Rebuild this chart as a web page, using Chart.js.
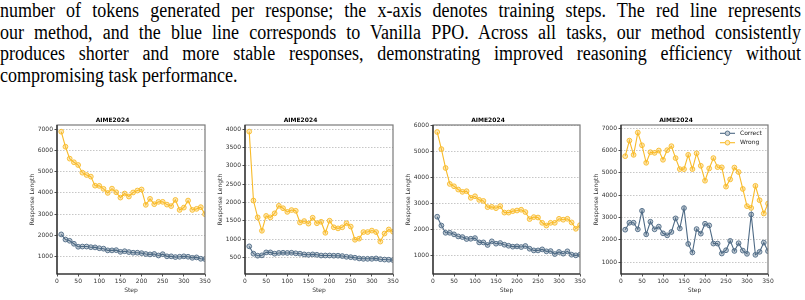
<!DOCTYPE html>
<html>
<head>
<meta charset="utf-8">
<script src="https://cdn.jsdelivr.net/npm/chart.js@4.4.1/dist/chart.umd.min.js"></script>
<style>
  html, body { margin: 0; padding: 0; background: #fff; }
  body { width: 805px; height: 300px; position: relative; overflow: hidden; }
  .para { position: absolute; left: 0; top: 0; width: 890px;
          transform: scaleX(0.9); transform-origin: 0 0;
          font-family: "Liberation Serif", "Times New Roman", serif;
          font-size: 20px; line-height: 21.7px; color: #000; }
  .para div { text-align: justify; text-align-last: justify; }
  .para div.last { text-align-last: left; }
  canvas { position: absolute; top: 112px; }
</style>
</head>
<body>
<div class="para">
  <div>number of tokens generated per response; the x-axis denotes training steps. The red line represents</div>
  <div>our method, and the blue line corresponds to Vanilla PPO. Across all tasks, our method consistently</div>
  <div>produces shorter and more stable responses, demonstrating improved reasoning efficiency without</div>
  <div class="last">compromising task performance.</div>
</div>
<canvas id="c1" width="193" height="188" style="left:20px"></canvas>
<canvas id="c2" width="193" height="188" style="left:208px"></canvas>
<canvas id="c3" width="192" height="188" style="left:396px"></canvas>
<canvas id="c4" width="192" height="188" style="left:584px"></canvas>
<script>
// training steps (x) and tick labels
const steps = [10,20,30,40,50,60,70,80,90,100,110,120,130,140,150,160,170,180,190,200,
               210,220,230,240,250,260,270,280,290,300,310,320,330,340,350];
const xTicks = [0,50,100,150,200,250,300,350];

// panel 1
const correct1 = [2050,1810,1750,1610,1470,1480,1480,1450,1440,1400,1380,1300,1300,1310,1230,1260,1220,1190,1190,1170,
                  1130,1110,1130,1060,1120,1020,1020,985,1000,1020,1000,950,970,905,890];
const wrong1 = [6875,6170,5610,5440,5310,4950,4840,4765,4340,4330,4190,4000,4200,4030,3780,3970,3830,4020,4110,4160,
                3440,3720,3470,3580,3580,3450,3380,3670,3200,3310,3640,3200,3250,3330,3000];
const yTicks1 = [1000,2000,3000,4000,5000,6000,7000];

// panel 2
const correct2 = [800,600,545,555,635,635,600,620,625,620,625,610,600,580,570,580,570,550,550,550,
                  545,545,535,515,505,490,470,460,460,460,470,450,440,435,425];
const wrong2 = [3930,2050,1590,1225,1630,1590,1700,1905,1840,1740,1790,1770,1450,1490,1420,1580,1430,1470,1170,1500,
                1320,1290,1320,1430,1340,980,1010,1190,1190,1230,1190,930,1150,1260,1200];
const yTicks2 = [500,1000,1500,2000,2500,3000,3500,4000];

// panel 3
const correct3 = [2490,2150,1870,1870,1810,1730,1705,1630,1640,1665,1500,1500,1400,1540,1450,1475,1410,1370,1335,1345,
                  1320,1360,1255,1190,1190,1230,1155,1165,1050,1130,1065,1155,1025,1000,1025];
const wrong3 = [5760,5100,4370,3755,3665,3540,3450,3475,3220,3280,3140,3100,2860,2870,2820,2900,2650,2650,2705,2730,
                2760,2670,2400,2475,2460,2255,2150,2255,2255,2410,2375,2410,2270,2025,2165];
const yTicks3 = [1000,2000,3000,4000,5000,6000];

// panel 4
const correct4 = [2453,2765,2765,2470,3300,2245,2810,2470,2590,2290,2200,2350,2960,2510,3420,1815,1430,2480,2275,2720,
                  2645,1830,1830,1385,1530,1950,1500,1845,1515,1370,3135,1325,1460,1875,1490];
const wrong4 = [5750,6450,5810,6810,6240,5455,5930,5900,6005,5590,6020,6200,5665,5170,5170,5810,5170,5880,5320,4650,
                5200,5665,5260,5250,4385,4710,5240,5040,4280,3510,3430,4420,3775,3180,3625];
const yTicks4 = [1000,2000,3000,4000,5000,6000,7000];

const BLUE = '#4e6a85';
const BLUE_FILL = 'rgba(78,106,133,0.35)';
const GOLD = '#f8bb2a';
const GOLD_FILL = 'rgba(248,187,42,0.35)';
const FONT = 'DejaVu Sans';

// box around plot area, like matplotlib spines
const framePlugin = {
  id: 'frame',
  afterDatasetsDraw(chart) {
    const ctx = chart.ctx, a = chart.chartArea;
    ctx.save();
    ctx.lineWidth = 1.2;
    ctx.strokeStyle = '#7a7a7a';
    ctx.strokeRect(a.left, a.top, a.width, a.height);
    ctx.strokeStyle = '#222';
    ctx.beginPath();
    ctx.moveTo(a.left, a.top);
    ctx.lineTo(a.left, a.bottom);
    ctx.lineTo(a.right, a.bottom);
    ctx.stroke();
    ctx.restore();
  }
};

// legend drawn inside the top-right corner (line + marker + label)
const cornerLegend = {
  id: 'cornerLegend',
  afterDatasetsDraw(chart, args, opts) {
    if (!opts.display) return;
    const ctx = chart.ctx, a = chart.chartArea;
    ctx.save();
    ctx.font = '6px "' + FONT + '"';
    ctx.textBaseline = 'middle';
    chart.data.datasets.forEach(function(ds, i) {
      const y = a.top + 8.3 + i * 9.4;
      const x0 = a.right - 48;
      ctx.strokeStyle = ds.borderColor;
      ctx.lineWidth = 1.1;
      ctx.beginPath(); ctx.moveTo(x0, y); ctx.lineTo(x0 + 15, y); ctx.stroke();
      ctx.beginPath(); ctx.arc(x0 + 7.5, y, 2.3, 0, Math.PI * 2);
      ctx.fillStyle = '#fff'; ctx.fill();
      ctx.fillStyle = ds.pointBackgroundColor; ctx.fill();
      ctx.lineWidth = 0.9; ctx.stroke();
      ctx.fillStyle = '#222';
      ctx.fillText(ds.label, x0 + 20, y);
    });
    ctx.restore();
  }
};

function series(label, vals, color, fill) {
  return {
    label: label,
    data: steps.map(function(s, i) { return {x: s, y: vals[i]}; }),
    borderColor: color,
    borderWidth: 1.1,
    pointRadius: 2.4,
    pointBorderWidth: 0.9,
    pointBorderColor: color,
    pointBackgroundColor: fill,
    tension: 0,
    clip: 0
  };
}

function plain(v) { return String(v); }

function makeChart(id, correct, wrong, yTicks, yLo, yHi, showLegend) {
  const ctx = document.getElementById(id);
  return new Chart(ctx, {
    type: 'line',
    data: { datasets: [
      series('Correct', correct, BLUE, BLUE_FILL),
      series('Wrong', wrong, GOLD, GOLD_FILL)
    ]},
    options: {
      responsive: false,
      animation: false,
      events: [],
      layout: { padding: { right: 8 }, autoPadding: false },
      plugins: {
        legend: { display: false },
        tooltip: { enabled: false },
        title: { display: true, text: 'AIME2024', color: '#000',
                 font: { family: FONT, size: 6, weight: 'bold', lineHeight: 1.2 },
                 padding: { top: 4.4, bottom: 1.4 } },
        cornerLegend: { display: showLegend }
      },
      scales: {
        x: {
          type: 'linear', min: 0, max: 350,
          afterBuildTicks: function(s) { s.ticks = xTicks.map(function(v) { return {value: v}; }); },
          afterFit: function(s) { s.height = 26; },
          ticks: { color: '#333', font: { family: FONT, size: 6 }, padding: 1.5, maxRotation: 0,
                   autoSkip: false, callback: plain },
          grid: { drawOnChartArea: false, drawTicks: true, tickLength: 2.5, tickColor: '#222', tickWidth: 0.8 },
          border: { display: false },
          title: { display: true, text: 'Step', color: '#333',
                   font: { family: FONT, size: 6, lineHeight: 1.2 }, padding: { top: 0, bottom: 6.4 } }
        },
        y: {
          type: 'linear', min: yLo, max: yHi,
          afterBuildTicks: function(s) { s.ticks = yTicks.map(function(v) { return {value: v}; }); },
          afterFit: function(s) { s.width = 37; },
          ticks: { color: '#333', font: { family: FONT, size: 6 }, padding: 1.5, callback: plain },
          grid: { color: 'rgba(0,0,0,0.28)', lineWidth: 0.8, drawTicks: true, tickLength: 2.5,
                  tickColor: '#222', tickWidth: 0.8, tickBorderDash: [] },
          border: { display: false, dash: [1.5, 1.5] },
          title: { display: true, text: 'Response Length', color: '#333',
                   font: { family: FONT, size: 6, lineHeight: 1.2 }, padding: { top: 8.4, bottom: 0 } }
        }
      }
    },
    plugins: [framePlugin, cornerLegend]
  });
}

makeChart('c1', correct1, wrong1, yTicks1, 190, 7190, false);
makeChart('c2', correct2, wrong2, yTicks2, 46, 4110, false);
makeChart('c3', correct3, wrong3, yTicks3, 280, 6030, false);
makeChart('c4', correct4, wrong4, yTicks4, 465, 7150, true);
</script>
</body>
</html>
